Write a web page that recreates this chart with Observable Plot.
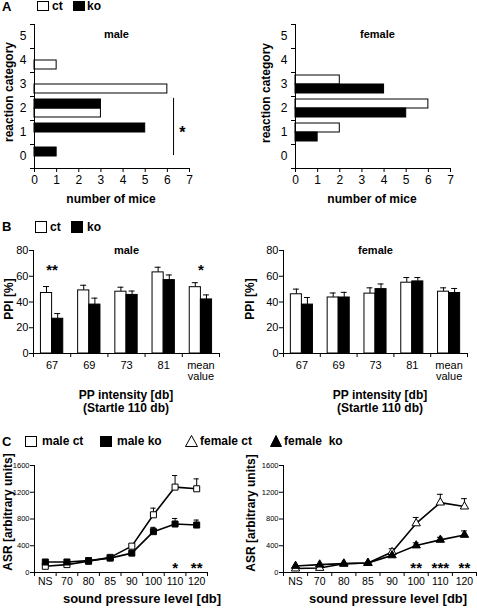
<!DOCTYPE html>
<html><head><meta charset="utf-8">
<script src="https://cdn.jsdelivr.net/npm/d3@7"></script>
<script src="https://cdn.jsdelivr.net/npm/@observablehq/plot@0.6"></script>
<style>
body{margin:0;background:#fff;}
#fig{position:relative;width:477px;height:613px;background:#fff;font-family:Arial,"Liberation Sans",Helvetica,sans-serif;color:#000;overflow:hidden;}
.t{position:absolute;white-space:pre;font-weight:bold;line-height:1;}
.plot{position:absolute;overflow:visible;}
</style></head><body><div id="fig"></div>
<script>
// ---------- data ----------
// Panel A: reaction category counts
const reactionCategories = [0,1,2,3,4,5];
const miceTicks = [0,1,2,3,4,5,6,7];
const maleCtMice   = [0,0,3,6,1,0];
const maleKoMice   = [1,5,3,0,0,0];
const femaleCtMice = [0,2,6,2,0,0];
const femaleKoMice = [0,1,5,4,0,0];
// significance bracket in male panel A: [x, yFrom, yTo], star
const maleABracket = [6.28, 0.04, 2.42];
const maleAStar = [{x:6.68, y:1.0, label:"*"}];

// Panel B: PPI [%]
const ppCategories = ["67","69","73","81","mean\nvalue"];
const ppiTicks = [0,20,40,60,80];
const ppiMaleCt      = [47,49,48,63,51.5];
const ppiMaleCtErr   = [52,53,51.5,67,55];
const ppiMaleKo      = [27,38,45.5,57,42];
const ppiMaleKoErr   = [31,43,48.5,61,45.5];
const ppiFemaleCt    = [46,43.5,46.5,55,48];
const ppiFemaleCtErr = [50,47,51,59,51];
const ppiFemaleKo    = [38,43.5,50,56,47];
const ppiFemaleKoErr = [43.5,47.5,54,59,50.5];
const ppiMaleStars   = [{i:0, label:"**"},{i:4, label:"*"}];
const ppiFemaleStars = [];

// Panel C: ASR
const splCategories = ["NS","70","80","85","90","100","110","120"];
const asrTicks = [0,400,800,1200,1600];
const asrMaleCt      = [93,118,167,226,394,863,1277,1252];
const asrMaleCtErr   = [93,118,167,226,410,962,1450,1400];
const asrMaleKo      = [157,157,178,215,290,611,725,710];
const asrMaleKoErr   = [157,157,178,215,300,675,808,784];
const asrFemaleCt    = [59,68,130,142,305,734,1045,986];
const asrFemaleCtErr = [59,68,130,142,355,823,1169,1104];
const asrFemaleKo    = [98,118,133,142,256,404,488,562];
const asrFemaleKoErr = [98,118,133,142,262,444,527,622];
const asrMaleStars   = [{i:6,label:"*"},{i:7,label:"**"}];
const asrFemaleStars = [{i:5,label:"**"},{i:6,label:"***"},{i:7,label:"**"}];

// ---------- helpers ----------
const fig = document.getElementById("fig");
const FONT = 'Arial, "Liberation Sans", Helvetica, sans-serif';
const plain = d => String(d);
function place(svg, left, top){
  svg.classList.add("plot");
  svg.style.left = left+"px"; svg.style.top = top+"px";
  fig.appendChild(svg);
}
function txt(s, x, y, o={}){
  const d = document.createElement("div");
  d.className = "t"; d.textContent = s;
  d.style.fontSize = (o.size||12)+"px";
  if (o.weight) d.style.fontWeight = o.weight;
  d.style.left = x+"px"; d.style.top = y+"px";
  let tr = o.anchor==="start" ? "translate(0,-50%)" : "translate(-50%,-50%)";
  if (o.rotate) tr += " rotate(-90deg)";
  d.style.transform = tr;
  fig.appendChild(d);
}
function sym(type, x, y, w, h){
  const ns="http://www.w3.org/2000/svg";
  const s=document.createElementNS(ns,"svg");
  s.setAttribute("width",w); s.setAttribute("height",h);
  s.style.position="absolute"; s.style.left=x+"px"; s.style.top=y+"px"; s.style.overflow="visible";
  let el;
  if (type==="sq"||type==="sqf"){
    el=document.createElementNS(ns,"rect");
    el.setAttribute("x",0.5); el.setAttribute("y",0.5);
    el.setAttribute("width",w-1); el.setAttribute("height",h-1);
    el.setAttribute("fill", type==="sqf"?"#000":"#fff");
  } else {
    el=document.createElementNS(ns,"polygon");
    el.setAttribute("points",`${w/2},0.5 ${w-0.5},${h-0.5} 0.5,${h-0.5}`);
    el.setAttribute("fill", type==="trf"?"#000":"#fff");
  }
  el.setAttribute("stroke","#000"); el.setAttribute("stroke-width",1);
  s.appendChild(el); fig.appendChild(s);
}
const baseStyle = {fontFamily: FONT, fontSize:"11px", color:"#000", background:"transparent", overflow:"visible"};

// ---------- Panel A ----------
function panelA({left, width, mL, mR, ct, ko, koOnTop, sex, bracket, stars}){
  const ctRows=[], koRows=[];
  reactionCategories.forEach((c,i)=>{
    const upper=[c, c+0.375], lower=[c-0.375, c];
    const cp = koOnTop ? lower : upper, kp = koOnTop ? upper : lower;
    if (ct[i]>0) ctRows.push({v:ct[i], y1:cp[0], y2:cp[1]});
    if (ko[i]>0) koRows.push({v:ko[i], y1:kp[0], y2:kp[1]});
  });
  const marks = [
    Plot.rect(ctRows,{x1:()=>0, x2:"v", y1:"y1", y2:"y2", fill:"white", stroke:"black", strokeWidth:1}),
    Plot.rect(koRows,{x1:()=>0, x2:"v", y1:"y1", y2:"y2", fill:"black", stroke:"black", strokeWidth:1}),
    Plot.ruleX([0],{stroke:"#000"}),
    Plot.ruleY([-0.5],{stroke:"#000"}),
    Plot.axisX({ticks:miceTicks, tickSize:4, tickPadding:3, tickFormat:plain, label:null, fontSize:12}),
    Plot.axisY({ticks:reactionCategories, tickSize:0, tickPadding:8, tickFormat:plain, label:null, fontSize:12}),
    Plot.axisY({ticks:d3.range(-0.5,6,1), tickSize:4, tickFormat:()=>"", label:null}),
    Plot.text([sex],{x:()=>3.7, y:()=>5.1, text:d=>d, fontWeight:"bold", fontSize:11})
  ];
  if (bracket){
    marks.push(Plot.ruleX([bracket],{x:d=>d[0], y1:d=>d[1], y2:d=>d[2], stroke:"#000"}));
    marks.push(Plot.text(stars,{x:"x", y:"y", text:"label", fontSize:16, fontWeight:"bold"}));
  }
  const svg = Plot.plot({
    width, height:210, marginLeft:mL, marginRight:mR, marginTop:24, marginBottom:42,
    x:{domain:[0,7], axis:null}, y:{domain:[-0.5,5.5], axis:null},
    style: baseStyle, marks
  });
  place(svg, left, 0);
}
panelA({left:0, width:240, mL:34, mR:51, ct:maleCtMice, ko:maleKoMice, koOnTop:true, sex:"male", bracket:maleABracket, stars:maleAStar});
panelA({left:240, width:237, mL:55, mR:27, ct:femaleCtMice, ko:femaleKoMice, koOnTop:false, sex:"female"});

// ---------- Panel B ----------
function panelB({left, width, mL, mR, ct, ctE, ko, koE, sex, stars}){
  const rows=[];
  ppCategories.forEach((c,i)=>{
    rows.push({g:"ct", x1:i-0.3, x2:i, xc:i-0.15, v:ct[i], e:ctE[i]});
    rows.push({g:"ko", x1:i, x2:i+0.3, xc:i+0.15, v:ko[i], e:koE[i]});
  });
  const svg = Plot.plot({
    width, height:160, marginLeft:mL, marginRight:mR, marginTop:20, marginBottom:37,
    x:{domain:[-0.5,4.5], axis:null}, y:{domain:[0,80], axis:null},
    style: baseStyle,
    marks:[
      Plot.ruleX(rows,{x:"xc", y1:"v", y2:"e", stroke:"#000"}),
      Plot.ruleY(rows,{y:"e", x1:d=>d.xc-0.08, x2:d=>d.xc+0.08, stroke:"#000"}),
      Plot.rect(rows.filter(d=>d.g==="ct"),{x1:"x1", x2:"x2", y1:()=>0, y2:"v", fill:"white", stroke:"black"}),
      Plot.rect(rows.filter(d=>d.g==="ko"),{x1:"x1", x2:"x2", y1:()=>0, y2:"v", fill:"black", stroke:"black"}),
      Plot.ruleX([-0.5],{stroke:"#000"}),
      Plot.ruleY([0],{stroke:"#000"}),
      Plot.axisY({ticks:ppiTicks, tickSize:4, tickPadding:1, tickFormat:plain, label:null, fontSize:11}),
      Plot.axisX({ticks:d3.range(-0.5,5,1), tickSize:4, tickFormat:()=>"", label:null}),
      Plot.axisX({ticks:[0,1,2,3,4], tickSize:0, tickPadding:8, tickFormat:i=>ppCategories[i], label:null, fontSize:11}),
      Plot.text([sex],{x:()=>2, y:()=>80, text:d=>d, fontWeight:"bold", fontSize:11}),
      Plot.text(stars,{x:"i", y:()=>65, text:"label", fontWeight:"bold", fontSize:15})
    ]
  });
  place(svg, left, 230);
}
panelB({left:0, width:240, mL:33, mR:21, ct:ppiMaleCt, ctE:ppiMaleCtErr, ko:ppiMaleKo, koE:ppiMaleKoErr, sex:"male", stars:ppiMaleStars});
panelB({left:240, width:237, mL:43, mR:10, ct:ppiFemaleCt, ctE:ppiFemaleCtErr, ko:ppiFemaleKo, koE:ppiFemaleKoErr, sex:"female", stars:ppiFemaleStars});

// ---------- Panel C ----------
function panelC({left, width, mL, mR, ct, ctE, ko, koE, symbol, stars}){
  const ctRows = splCategories.map((c,i)=>({i, v:ct[i], e:ctE[i]}));
  const koRows = splCategories.map((c,i)=>({i, v:ko[i], e:koE[i]}));
  const all = ctRows.concat(koRows).filter(d=>d.e>d.v);
  const r = symbol==="square" ? 3.4 : 3.1;
  const svg = Plot.plot({
    width, height:158, marginLeft:mL, marginRight:mR, marginTop:10, marginBottom:41,
    x:{domain:[-0.5,7.5], axis:null}, y:{domain:[0,1600], axis:null},
    style: baseStyle,
    marks:[
      Plot.ruleX(all,{x:"i", y1:"v", y2:"e", stroke:"#000"}),
      Plot.ruleY(all,{y:"e", x1:d=>d.i-0.12, x2:d=>d.i+0.12, stroke:"#000"}),
      Plot.line(ctRows,{x:"i", y:"v", stroke:"#000", strokeWidth:1.6}),
      Plot.line(koRows,{x:"i", y:"v", stroke:"#000", strokeWidth:1.6}),
      Plot.dot(ctRows,{x:"i", y:"v", symbol, r, fill:"white", stroke:"black", strokeWidth:1}),
      Plot.dot(koRows,{x:"i", y:"v", symbol, r, fill:"black", stroke:"black", strokeWidth:1}),
      Plot.ruleX([-0.5],{stroke:"#000"}),
      Plot.ruleY([0],{stroke:"#000"}),
      Plot.axisY({ticks:asrTicks, tickSize:4, tickPadding:1, tickFormat:plain, label:null, fontSize:7.5}),
      Plot.axisX({ticks:d3.range(-0.5,8,1), tickSize:4, tickFormat:()=>"", label:null}),
      Plot.axisX({ticks:d3.range(0,8), tickSize:0, tickPadding:5, tickFormat:i=>splCategories[i], label:null, fontSize:10.5}),
      Plot.text(stars,{x:"i", y:()=>70, text:"label", fontWeight:"bold", fontSize:15})
    ]
  });
  place(svg, left, 455);
}
panelC({left:0, width:240, mL:34, mR:33, ct:asrMaleCt, ctE:asrMaleCtErr, ko:asrMaleKo, koE:asrMaleKoErr, symbol:"square", stars:asrMaleStars});
panelC({left:240, width:237, mL:43, mR:1, ct:asrFemaleCt, ctE:asrFemaleCtErr, ko:asrFemaleKo, koE:asrFemaleKoErr, symbol:"triangle", stars:asrFemaleStars});

// ---------- HTML labels & legends ----------
txt("A", 2, 6, {anchor:"start", size:13});
sym("sq", 37, 1, 12, 10); txt("ct", 52, 6, {anchor:"start", size:12});
sym("sqf", 73, 1, 12, 10); txt("ko", 87, 6, {anchor:"start", size:12});
txt("reaction category", 9, 92, {rotate:true, size:12});
txt("reaction category", 266, 93, {rotate:true, size:12});
txt("number of mice", 111, 199, {size:12});
txt("number of mice", 372, 199, {size:12});

txt("B", 2, 226, {anchor:"start", size:13});
sym("sq", 35, 221, 12, 12); txt("ct", 50, 227, {anchor:"start", size:12});
sym("sqf", 71, 221, 12, 12); txt("ko", 87, 227, {anchor:"start", size:12});
txt("PPI [%]", 9, 299, {rotate:true, size:12});
txt("PPI [%]", 250, 299, {rotate:true, size:12});
txt("PP intensity [db]", 126, 395, {size:12});
txt("(Startle 110 db)", 126, 408, {size:12});
txt("PP intensity [db]", 380, 395, {size:12});
txt("(Startle 110 db)", 380, 408, {size:12});

txt("C", 2, 441, {anchor:"start", size:13});
sym("sq", 25, 436, 12, 11); txt("male ct", 42, 441, {anchor:"start", size:12});
sym("sqf", 100, 436, 12, 11); txt("male ko", 117, 441, {anchor:"start", size:12});
sym("tr", 185, 435, 13, 12); txt("female ct", 200, 441, {anchor:"start", size:12});
sym("trf", 270, 435, 12, 12); txt("female  ko", 284, 441, {anchor:"start", size:12});
txt("ASR [arbitrary units]", 8, 512, {rotate:true, size:12});
txt("ASR [arbitrary units]", 251, 513, {rotate:true, size:12});
txt("sound pressure level [db]", 142, 598, {size:13});
txt("sound pressure level [db]", 388, 598, {size:13});
</script></body></html>
